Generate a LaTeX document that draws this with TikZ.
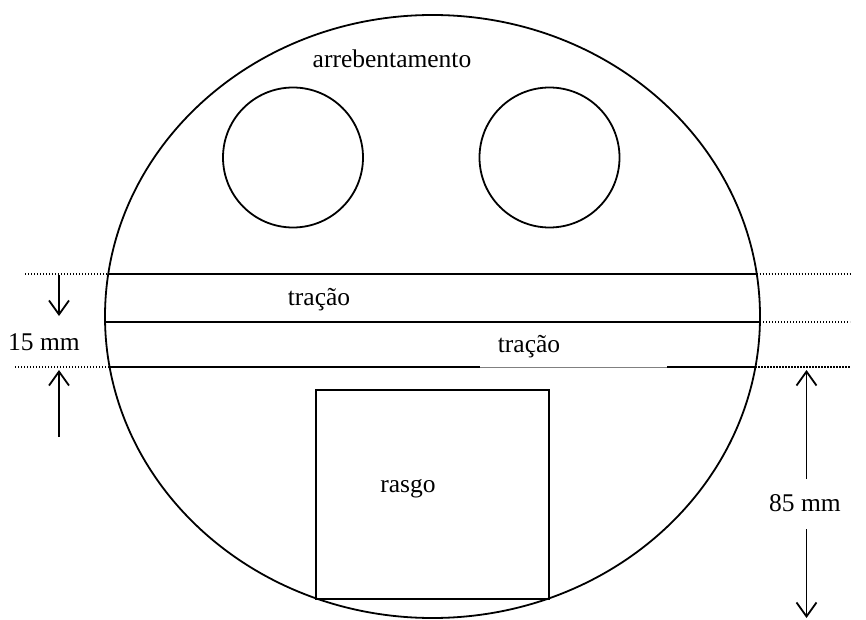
\documentclass[tikz,border=0pt]{standalone}
\usepackage{fontspec}
\setmainfont{Liberation Serif}
\usetikzlibrary{arrows.meta}
\begin{document}
\begin{tikzpicture}[x=1pt,y=-1pt,
  solidline/.style={line width=1.8pt},
  dotline/.style={line width=1.2pt, dash pattern=on 1.2pt off 1.8pt},
  dimarrow/.style={line width=1.8pt, -{Straight Barb[length=14pt,width=20pt,line width=1.8pt]}},
  lbl/.style={font=\fontsize{25.5}{30}\selectfont, inner sep=0pt}]
\useasboundingbox (0,0) rectangle (866,620);
% outer ellipse
\draw[solidline] (432.5,316.5) ellipse [x radius=327.5, y radius=301.5];
% circles
\draw[solidline] (293,157.5) circle [radius=70];
\draw[solidline] (549.5,157.5) circle [radius=70];
% horizontal lines
\coordinate (l1) at (108.3,274); \coordinate (r1) at (756.7,274);
\coordinate (l2) at (105,322);   \coordinate (r2) at (760,322);
\coordinate (l3) at (109.6,367); \coordinate (r3) at (755.4,367);
\coordinate (g1) at (480,367);   \coordinate (g2) at (667,367);
\draw[solidline] (l1) -- (r1);
\draw[solidline] (l2) -- (r2);
\draw[solidline] (l3) -- (g1);
\draw[line width=0.8pt, gray] (g1) -- (g2);
\draw[solidline] (g2) -- (r3);
% dotted extensions
\coordinate (d1l) at (25,274);  \coordinate (d1r) at (850,274);
\coordinate (d2r) at (850,322);
\coordinate (d3l) at (15,367);  \coordinate (d3r) at (850,367);
\draw[dotline] (d1l) -- (l1);
\draw[dotline] (r1) -- (d1r);
\draw[dotline] (r2) -- (d2r);
\draw[dotline] (d3l) -- (l3);
\draw[dotline] (r3) -- (d3r);
% rectangle
\draw[solidline] (316,390) rectangle (549,599);
% arrows left
\coordinate (a1s) at (59,275); \coordinate (a1e) at (59,316);
\coordinate (a2s) at (59,437); \coordinate (a2e) at (59,370);
\draw[dimarrow] (a1s) -- (a1e);
\draw[dimarrow] (a2s) -- (a2e);
% arrows right
\coordinate (a3s) at (806.5,479); \coordinate (a3e) at (806.5,370);
\coordinate (a4s) at (806.5,529); \coordinate (a4e) at (806.5,618);
\draw[dimarrow] (a3s) -- (a3e);
\draw[dimarrow] (a4s) -- (a4e);
% labels
\node[lbl] (arreb) at (392,59) {arrebentamento};
\node[lbl] (tr1) at (319,300) {tração};
\node[lbl] (tr2) at (529,347) {tração};
\node[lbl] (mm15) at (44,342) {15 mm};
\node[lbl] (rasgo) at (408,489) {rasgo};
\node[lbl] (mm85) at (805,503) {85 mm};
\end{tikzpicture}
\end{document}
